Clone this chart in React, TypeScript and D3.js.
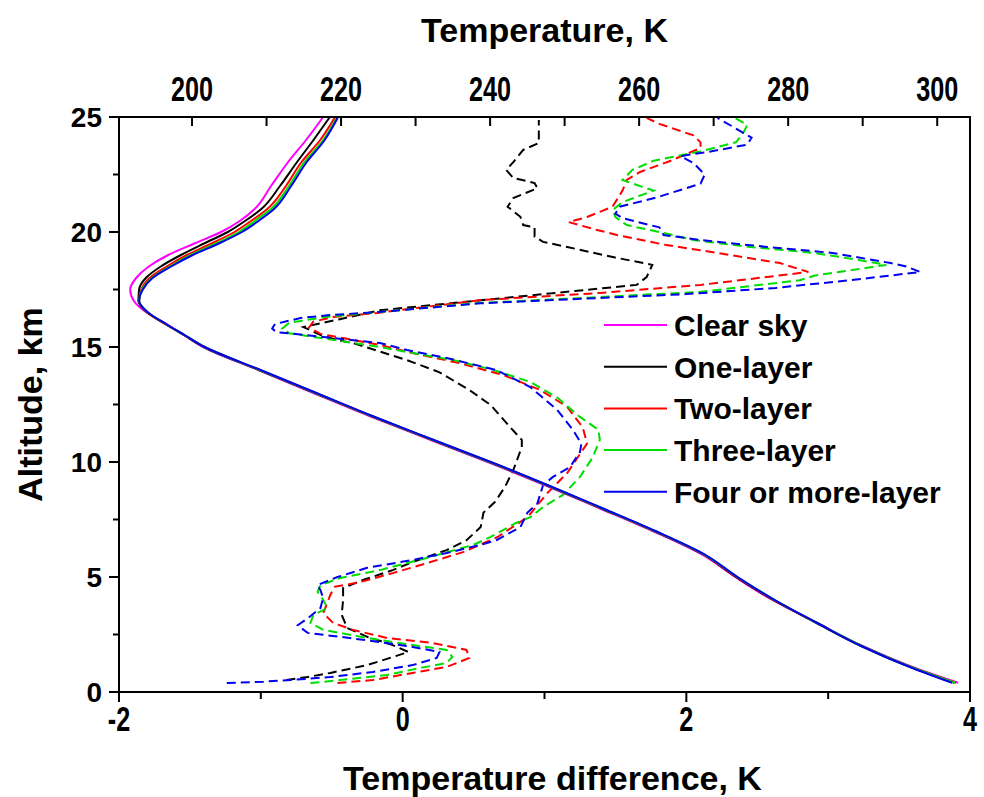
import * as d3 from "d3";

// altitude grid (km) for the temperature profiles (solid lines, top axis)
const altProfile = [
  0.4, 1, 2, 3, 4, 5, 6, 7, 8, 9, 10, 11, 12, 13, 14, 15, 15.5, 16, 16.5, 17,
  17.5, 18, 18.5, 19, 19.5, 20, 20.5, 21, 22, 23, 24, 25,
];

const tempClear = [
  302.8, 297.4, 290.0, 283.9, 277.9, 272.9, 268.3, 261.8, 254.6, 247.3, 239.7,
  231.7, 223.8, 216.3, 208.9, 201.5, 199.0, 196.6, 193.9, 192.2, 191.7, 192.5,
  194.2, 196.8, 200.3, 203.9, 206.5, 208.4, 210.6, 212.8, 215.3, 217.6,
];
const tempOne = [
  302.3, 297.1, 289.8, 283.8, 278.0, 273.0, 268.5, 262.0, 254.8, 247.5, 239.9,
  231.9, 224.0, 216.5, 209.0, 201.6, 199.0, 196.4, 194.0, 192.8, 192.9, 193.8,
  195.8, 198.5, 201.6, 204.8, 207.2, 209.3, 211.8, 214.0, 216.3, 218.5,
];
const tempTwo = [
  302.5, 297.2, 289.9, 283.9, 278.1, 273.1, 268.6, 262.1, 254.9, 247.6, 240.0,
  232.0, 224.1, 216.6, 209.1, 201.7, 199.1, 196.4, 194.0, 192.9, 193.2, 194.3,
  196.6, 199.3, 202.6, 205.7, 208.0, 210.1, 212.6, 214.6, 217.2, 219.2,
];
const tempThree = [
  302.4, 297.2, 289.9, 283.9, 278.2, 273.2, 268.6, 262.1, 254.9, 247.6, 240.0,
  232.0, 224.1, 216.6, 209.1, 201.7, 199.1, 196.5, 194.1, 192.9, 193.3, 194.6,
  197.0, 199.8, 203.2, 206.3, 208.5, 210.6, 213.0, 215.0, 217.6, 219.5,
];
const tempFour = [
  302.0, 297.0, 289.8, 283.9, 278.2, 273.2, 268.7, 262.2, 255.0, 247.7, 240.1,
  232.1, 224.2, 216.7, 209.2, 201.7, 199.1, 196.5, 194.1, 192.9, 193.4, 194.7,
  197.2, 200.1, 203.6, 206.7, 209.0, 211.0, 213.3, 215.3, 217.8, 219.6,
];

// temperature difference profiles (dashed lines, bottom axis)
const altOne = [
  0.52, 0.65, 0.83, 1.17, 1.52, 1.74, 2.04, 2.4, 2.78, 3.35, 4.0, 4.52, 4.87,
  5.3, 5.65, 6.17, 6.6, 7.17, 7.8, 8.26, 8.9, 9.65, 10.65, 10.96, 11.5, 12.48,
  13.13, 13.9, 14.43, 15.17, 15.3, 15.5, 15.87, 16.2, 16.6, 17.15, 17.7, 18.04,
  18.57, 18.9, 19.35, 19.57, 19.8, 20.2, 20.3, 20.66, 21.1, 21.48, 21.9, 22.13,
  22.35, 22.7, 23.04, 23.57, 23.87, 24.87,
];
const diffOne = [
  -0.82, -0.67, -0.51, -0.25, -0.07, 0.04, -0.07, -0.25, -0.39, -0.43, -0.42,
  -0.42, -0.28, -0.07, 0.07, 0.31, 0.45, 0.55, 0.57, 0.65, 0.72, 0.78, 0.84,
  0.84, 0.76, 0.62, 0.47, 0.26, 0.03, -0.35, -0.46, -0.57, -0.7, -0.45, -0.16,
  0.75, 1.65, 1.72, 1.76, 1.49, 1.16, 0.99, 0.93, 0.93, 0.85, 0.83, 0.74, 0.78,
  0.95, 0.93, 0.78, 0.73, 0.78, 0.85, 0.96, 0.96,
];

const altTwo = [
  0.39, 0.52, 0.83, 1.09, 1.48, 1.83, 2.13, 2.35, 2.7, 3.0, 3.43, 3.9, 4.22,
  4.57, 4.78, 5.17, 5.6, 6.09, 6.74, 7.6, 8.65, 9.52, 10.8, 11.5, 12.4, 13.13,
  13.78, 14.3, 14.74, 15.09, 15.57, 15.85, 16.1, 16.3, 16.48, 17.04, 17.35, 17.7,
  18.26, 18.65, 19.09, 19.43, 19.87, 20.09, 20.43, 20.65, 21.1, 21.8, 22.26,
  22.6, 23.1, 23.65, 23.9, 24.2, 24.7, 24.96,
];
const diffTwo = [
  -0.46, -0.21, 0.07, 0.31, 0.47, 0.45, 0.21, -0.11, -0.35, -0.49, -0.56, -0.53,
  -0.51, -0.48, -0.3, -0.07, 0.17, 0.43, 0.67, 0.88, 1.02, 1.16, 1.3, 1.27, 1.16,
  0.97, 0.71, 0.4, 0.07, -0.16, -0.58, -0.66, -0.63, -0.49, -0.18, 0.55, 1.39,
  2.1, 2.86, 2.66, 2.22, 1.86, 1.51, 1.37, 1.17, 1.3, 1.48, 1.55, 1.58, 1.67,
  1.89, 2.1, 2.1, 2.05, 1.81, 1.72,
];

const altThree = [
  0.39, 0.52, 0.74, 1.04, 1.26, 1.52, 1.83, 2.04, 2.35, 2.7, 3.0, 3.35, 3.65,
  4.0, 4.35, 4.65, 4.96, 5.3, 5.83, 6.4, 6.74, 7.35, 7.6, 8.04, 8.57, 9.35, 10.2,
  10.96, 11.4, 11.96, 12.8, 13.48, 14.0, 14.43, 14.74, 15.0, 15.6, 15.8, 16.05,
  16.3, 16.5, 16.9, 17.17, 17.4, 17.9, 18.1, 18.57, 18.8, 19.09, 19.35, 19.65,
  19.96, 20.3, 20.65, 20.95, 21.3, 21.8, 21.96, 22.26, 22.7, 23.1, 23.26, 23.5,
  23.9, 24.3, 24.65, 25.0,
];
const diffThree = [
  -0.65, -0.44, -0.11, 0.12, 0.31, 0.35, 0.31, 0.07, -0.25, -0.56, -0.65, -0.63,
  -0.53, -0.56, -0.6, -0.58, -0.44, -0.16, 0.17, 0.5, 0.62, 0.8, 0.9, 0.99, 1.13,
  1.25, 1.34, 1.39, 1.38, 1.25, 1.09, 0.9, 0.64, 0.36, 0.07, -0.16, -0.8, -0.85,
  -0.8, -0.55, -0.2, 0.5, 1.39, 2.1, 2.8, 2.9, 3.41, 3.2, 2.9, 2.45, 2.05, 1.84,
  1.58, 1.5, 1.48, 1.55, 1.77, 1.69, 1.55, 1.62, 1.77, 1.9, 2.1, 2.35, 2.4,
  2.43, 2.33,
];

const altFour = [
  0.39, 0.45, 0.52, 0.65, 0.87, 1.17, 1.48, 1.74, 1.96, 2.17, 2.4, 2.57, 2.9,
  3.2, 3.65, 4.09, 4.43, 4.65, 5.0, 5.4, 5.74, 6.04, 6.4, 6.6, 7.17, 7.8, 8.2,
  9.0, 9.35, 9.78, 10.43, 10.8, 11.4, 12.26, 13.26, 14.0, 14.52, 14.87, 15.17,
  15.65, 15.8, 16.0, 16.26, 16.4, 16.5, 16.9, 17.13, 17.3, 17.57, 17.9, 18.26,
  18.5, 18.65, 19.09, 19.35, 19.65, 19.87, 20.2, 20.6, 20.8, 21.1, 21.5, 22.1,
  22.5, 23.0, 23.3, 23.5, 23.8, 24.1, 24.57, 24.96,
];
const diffFour = [
  -1.24, -0.98, -0.79, -0.51, -0.21, 0.07, 0.24, 0.26, 0.07, -0.16, -0.44, -0.67,
  -0.74, -0.67, -0.58, -0.56, -0.58, -0.6, -0.46, -0.25, 0.07, 0.31, 0.55, 0.66,
  0.83, 0.88, 0.95, 0.99, 1.06, 1.18, 1.25, 1.26, 1.2, 1.09, 0.9, 0.66, 0.31,
  0.03, -0.16, -0.89, -0.92, -0.9, -0.72, -0.49, -0.21, 0.55, 1.39, 2.0, 2.63,
  3.15, 3.65, 3.55, 3.44, 3.03, 2.57, 2.1, 1.84, 1.81, 1.55, 1.5, 1.53, 1.79,
  2.1, 2.13, 2.05, 1.96, 2.17, 2.43, 2.46, 2.33, 2.22,
];

const seriesNames = [
  "Clear sky",
  "One-layer",
  "Two-layer",
  "Three-layer",
  "Four or more-layer",
];
const seriesColors = ["#ff00ff", "#000000", "#ff0000", "#00dd00", "#0000ee"];

const tempTicks = [200, 220, 240, 260, 280, 300];
const diffTicks = [-2, 0, 2, 4];
const altTicks = [0, 5, 10, 15, 20, 25];

const width = 984;
const height = 797;
const margin = { left: 119, right: 14, top: 117, bottom: 105 };

const boldFont = "'Liberation Sans', Arial, sans-serif";

// tick labels on the temperature axes are set in a condensed face
const Condensed = ({ x, y, children }: { x: number; y: number; children: any }) => (
  <text
    transform={`translate(${x}, ${y}) scale(0.72, 1)`}
    textAnchor="middle"
    fontFamily={boldFont}
    fontWeight="bold"
    fontSize={35}
  >
    {children}
  </text>
);

const App = () => {
  const x0 = margin.left;
  const x1 = width - margin.right;
  const y0 = height - margin.bottom;
  const y1 = margin.top;

  const yScale = d3.scaleLinear().domain([0, 25]).range([y0, y1]);
  const xDiff = d3.scaleLinear().domain([-2, 4]).range([x0, x1]);
  const xTemp = d3.scaleLinear().domain([190.2, 304.4]).range([x0, x1]);

  const tempSeries = [tempClear, tempOne, tempTwo, tempThree, tempFour];
  const diffSeries = [
    { alt: altOne, diff: diffOne, color: seriesColors[1] },
    { alt: altTwo, diff: diffTwo, color: seriesColors[2] },
    { alt: altThree, diff: diffThree, color: seriesColors[3] },
    { alt: altFour, diff: diffFour, color: seriesColors[4] },
  ];

  const solidLine = d3
    .line<number>()
    .x((t) => xTemp(t))
    .y((_, i) => yScale(altProfile[i]))
    .curve(d3.curveMonotoneY);

  const dashedLine = (alt: number[], diff: number[]) =>
    d3
      .line<number>()
      .x((d) => xDiff(d))
      .y((_, i) => yScale(alt[i]))(diff);

  const tempMinor = d3.range(200, 305, 10);
  const diffMinor = d3.range(-2, 4.01, 1);
  const altMinor = d3.range(0, 25.01, 2.5);

  return (
    <svg
      width={width}
      height={height}
      style={{ position: "absolute", left: 0, top: 0, background: "#fff" }}
    >
      {/* dashed difference profiles */}
      {diffSeries.map((s, i) => (
        <path
          key={"d" + i}
          d={dashedLine(s.alt, s.diff) ?? undefined}
          fill="none"
          stroke={s.color}
          strokeWidth={2}
          strokeDasharray="9,5"
        />
      ))}

      {/* solid temperature profiles */}
      {tempSeries.map((t, i) => (
        <path
          key={"t" + i}
          d={solidLine(t) ?? undefined}
          fill="none"
          stroke={seriesColors[i]}
          strokeWidth={2}
        />
      ))}

      {/* frame */}
      <rect
        x={x0}
        y={y1}
        width={x1 - x0}
        height={y0 - y1}
        fill="none"
        stroke="#000"
        strokeWidth={2}
      />

      {/* top axis: temperature */}
      {tempMinor.map((t) => (
        <line
          key={"tt" + t}
          x1={xTemp(t)}
          x2={xTemp(t)}
          y1={y1}
          y2={y1 + 9}
          stroke="#000"
          strokeWidth={2}
        />
      ))}
      {tempTicks.map((t) => (
        <Condensed key={"tl" + t} x={xTemp(t)} y={y1 - 16}>
          {t}
        </Condensed>
      ))}
      <text
        x={(x0 + x1) / 2}
        y={42}
        textAnchor="middle"
        fontFamily={boldFont}
        fontWeight="bold"
        fontSize={34}
      >
        Temperature, K
      </text>

      {/* bottom axis: temperature difference */}
      {diffMinor.map((d) => (
        <line
          key={"dt" + d}
          x1={xDiff(d)}
          x2={xDiff(d)}
          y1={y0}
          y2={y0 + (d % 2 === 0 ? 10 : 7)}
          stroke="#000"
          strokeWidth={2}
        />
      ))}
      {diffTicks.map((d) => (
        <Condensed key={"dl" + d} x={xDiff(d)} y={y0 + 39}>
          {d}
        </Condensed>
      ))}
      <text
        x={(x0 + x1) / 2 + 8}
        y={790}
        textAnchor="middle"
        fontFamily={boldFont}
        fontWeight="bold"
        fontSize={34}
      >
        Temperature difference, K
      </text>

      {/* left axis: altitude */}
      {altMinor.map((a) => (
        <line
          key={"at" + a}
          x1={x0}
          x2={x0 - (a % 5 === 0 ? 10 : 6)}
          y1={yScale(a)}
          y2={yScale(a)}
          stroke="#000"
          strokeWidth={2}
        />
      ))}
      {altTicks.map((a) => (
        <text
          key={"al" + a}
          x={x0 - 17}
          y={yScale(a) + 10}
          textAnchor="end"
          fontFamily={boldFont}
          fontWeight="bold"
          fontSize={28}
        >
          {a}
        </text>
      ))}
      <text
        transform={`translate(42, ${(y0 + y1) / 2}) rotate(-90)`}
        textAnchor="middle"
        fontFamily={boldFont}
        fontWeight="bold"
        fontSize={34}
      >
        Altitude, km
      </text>

      {/* legend */}
      {seriesNames.map((name, i) => {
        const ly = 325 + i * 41.7;
        return (
          <g key={"lg" + i}>
            <line
              x1={604}
              x2={667}
              y1={ly}
              y2={ly}
              stroke={seriesColors[i]}
              strokeWidth={2}
            />
            <text
              x={674}
              y={ly + 11}
              fontFamily={boldFont}
              fontWeight="bold"
              fontSize={30}
            >
              {name}
            </text>
          </g>
        );
      })}
    </svg>
  );
};

export default App;
